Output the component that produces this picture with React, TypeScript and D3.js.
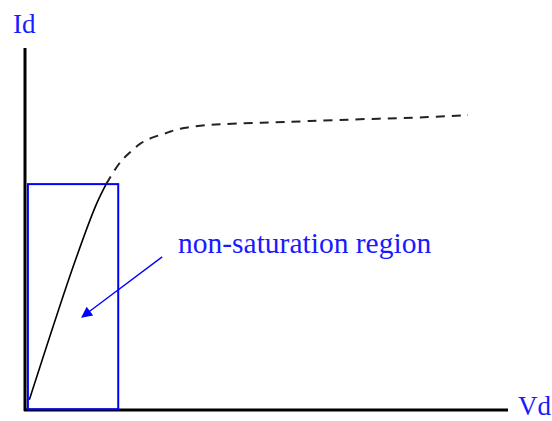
import React from "react";
import * as d3 from "d3";

// Linear (non-saturation) part of the Id–Vd characteristic
const linearVd = [0.9, 10.1, 14.7, 16.8];
const linearId = [2.8, 40.1, 56.6, 62.4];
// Knee and saturation part (dashed)
const satVd = [16.8, 19.3, 21.1, 23.8, 26.5, 30.0, 32.1, 38.9, 48.7, 58.4, 70.8, 84.5, 91.7];
const satId = [62.4, 68.0, 70.4, 73.8, 75.4, 76.8, 77.9, 79.0, 79.3, 79.8, 80.4, 80.9, 81.5];
// Non-saturation region box [Vd start, Vd end], [Id start, Id end]
const regionVd = [0.6, 19.3];
const regionId = [0.2, 62.4];
// Annotation arrow (from, to) in data units
const arrowVd = [28.4, 11.8];
const arrowId = [42.3, 25.7];
const labels = ["Id", "Vd", "non-saturation region"];

const W = 552, H = 421;
const x = d3.scaleLinear().domain([0, 100]).range([25, 508]);
const y = d3.scaleLinear().domain([0, 100]).range([410, 48]);

export default function App() {
  const linLine = d3.line<[number, number]>().x(d => x(d[0])).y(d => y(d[1])).curve(d3.curveCatmullRom.alpha(0.5));
  const satLine = d3.line<[number, number]>().x(d => x(d[0])).y(d => y(d[1])).curve(d3.curveBasis);
  const lin = linearVd.map((v, i) => [v, linearId[i]] as [number, number]);
  const sat = satVd.map((v, i) => [v, satId[i]] as [number, number]);
  const ax1 = x(arrowVd[0]), ay1 = y(arrowId[0]), ax2 = x(arrowVd[1]), ay2 = y(arrowId[1]);
  return (
    <svg width={W} height={H} style={{ position: "absolute", left: 0, top: 0, background: "#fff" }}>
      <defs>
        <marker id="ah" viewBox="0 0 10 10" refX="9" refY="5" markerWidth="14" markerHeight="11" orient="auto" markerUnits="userSpaceOnUse">
          <path d="M0,0 L10,5 L0,10 z" fill="#0000ff" />
        </marker>
      </defs>
      {/* axes */}
      <line x1={x(0)} y1={y(100)} x2={x(0)} y2={y(0) + 1} stroke="#000" strokeWidth={3} />
      <line x1={x(0) - 1} y1={y(0)} x2={x(100)} y2={y(0)} stroke="#000" strokeWidth={3} />
      <text x={13} y={33} fontFamily="Liberation Serif, serif" fontSize={27} fill="#1a1aff">{labels[0]}</text>
      <text x={518} y={415} fontFamily="Liberation Serif, serif" fontSize={27} fill="#1a1aff">{labels[1]}</text>
      {/* region box */}
      <rect x={x(regionVd[0])} y={y(regionId[1])} width={x(regionVd[1]) - x(regionVd[0])} height={y(regionId[0]) - y(regionId[1])}
        fill="none" stroke="#0000ff" strokeWidth={2} />
      {/* curve */}
      <path d={linLine(lin) || ""} fill="none" stroke="#000" strokeWidth={1.6} />
      <path d={satLine(sat) || ""} fill="none" stroke="#222" strokeWidth={2} strokeDasharray="9,7" />
      {/* annotation */}
      <line x1={ax1} y1={ay1} x2={ax2} y2={ay2} stroke="#0000ff" strokeWidth={1.3} markerEnd="url(#ah)" />
      <text x={178} y={253} fontFamily="Liberation Serif, serif" fontSize={29.5} fill="#1a1aff">{labels[2]}</text>
    </svg>
  );
}
